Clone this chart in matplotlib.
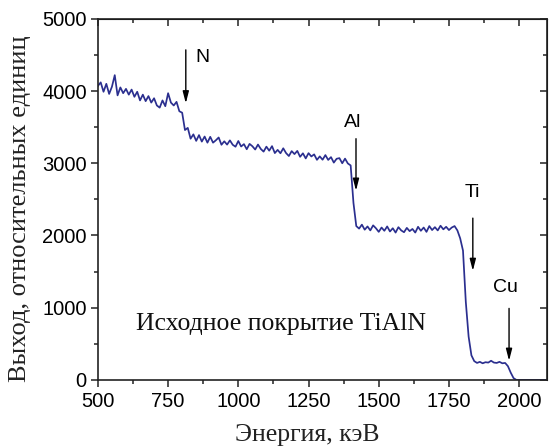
import matplotlib
matplotlib.use("Agg")
import matplotlib.pyplot as plt
from matplotlib.ticker import MultipleLocator

# RBS spectrum, one value per 10 keV channel starting at 500 keV
energy_start = 500
energy_step = 10
counts = [4070, 4120, 3990, 4100, 3960, 4060, 4220, 3940, 4050, 3970,   # 500-590
          4030, 3950, 4020, 3920, 3990, 3870, 3950, 3860, 3930, 3840,   # 600-690
          3900, 3800, 3770, 3870, 3790, 3970, 3840, 3800, 3850, 3720,   # 700-790
          3700, 3460, 3490, 3340, 3400, 3310, 3390, 3300, 3370, 3285,   # 800-890
          3366, 3285, 3318, 3357, 3256, 3304, 3258, 3317, 3256, 3229,   # 900-990
          3308, 3232, 3265, 3194, 3268, 3236, 3190, 3259, 3198, 3161,   # 1000-1090
          3230, 3174, 3237, 3141, 3185, 3138, 3207, 3141, 3100, 3168,   # 1100-1190
          3127, 3171, 3089, 3138, 3067, 3140, 3094, 3123, 3047, 3095,   # 1200-1290
          3049, 3113, 3046, 3085, 3009, 3062, 3071, 3000, 3064, 2997,   # 1300-1390
          2970, 2450, 2130, 2095, 2150, 2080, 2125, 2070, 2140, 2100,   # 1400-1490
          2050, 2110, 2065, 2125, 2055, 2100, 2040, 2115, 2070, 2045,   # 1500-1590
          2105, 2060, 2090, 2040, 2120, 2065, 2110, 2050, 2130, 2075,   # 1600-1690
          2115, 2070, 2135, 2085, 2120, 2075, 2110, 2130, 2070, 1960,   # 1700-1790
          1790, 1080, 600, 340, 260, 235, 250, 230, 245, 240,           # 1800-1890
          265, 240, 235, 250, 230, 235, 190, 100, 25, 0,                # 1900-1990
          0, 0, 0, 0, 0, 0, 0, 0, 0, 0, 0]                              # 2000-2100

elements = ["N", "Al", "Ti", "Cu"]
edge_energy = [813, 1419, 1835, 1964]

energy = [energy_start + energy_step * i for i in range(len(counts))]

fig = plt.figure(figsize=(5.5, 4.48), dpi=100)
ax = fig.add_axes([0.178, 0.152, 0.817, 0.806])
ax.plot(energy, counts, color="#2b2f8f", lw=1.25)

ax.set_xlim(500, 2100)
ax.set_ylim(0, 5000)
ax.xaxis.set_major_locator(MultipleLocator(250))
ax.xaxis.set_minor_locator(MultipleLocator(125))
ax.yaxis.set_major_locator(MultipleLocator(1000))
ax.yaxis.set_minor_locator(MultipleLocator(500))
ax.tick_params(which="both", direction="out", labelfontfamily="Liberation Sans",
               labelsize=14.5, width=1.1, color="#222222")
ax.tick_params(which="major", length=5, pad=3)
ax.tick_params(which="minor", length=3)
ax.tick_params(axis="x", pad=4)
# mirrored ticks on top/right pointing inward
sec_x = ax.secondary_xaxis("top")
sec_x.xaxis.set_major_locator(MultipleLocator(250))
sec_x.xaxis.set_minor_locator(MultipleLocator(125))
sec_x.tick_params(which="both", direction="in", labeltop=False, width=1.1, color="#222222")
sec_x.tick_params(which="major", length=5)
sec_x.tick_params(which="minor", length=3)
sec_y = ax.secondary_yaxis("right")
sec_y.yaxis.set_major_locator(MultipleLocator(1000))
sec_y.yaxis.set_minor_locator(MultipleLocator(500))
sec_y.tick_params(which="both", direction="in", labelright=False, width=1.1, color="#222222")
sec_y.tick_params(which="major", length=5)
sec_y.tick_params(which="minor", length=3)
for s in ax.spines.values():
    s.set_linewidth(1.2)
    s.set_color("#222222")

fig.text(0.559, 0.029, "Энергия, кэВ", family="Liberation Serif", fontsize=18.5,
         ha="center", va="center", color="#222222")
fig.text(0.036, 0.535, "Выход, относительных единиц", family="Liberation Serif",
         fontsize=19, rotation=90, ha="center", va="center", color="#222222")

arrow_top = [4570, 3340, 2240, 990]
arrow_tip = [3830, 2620, 1510, 265]
text_xy = [(874, 4470), (1408, 3570), (1835, 2600), (1950, 1280)]
for el, e, t, b, (tx, ty) in zip(elements, edge_energy, arrow_top, arrow_tip, text_xy):
    ax.annotate("", xy=(e, b), xytext=(e, t),
                arrowprops=dict(arrowstyle="-|>,head_length=0.7,head_width=0.18",
                                color="black", lw=1.0, shrinkA=0, shrinkB=0))
    ax.text(tx, ty, el, family="Liberation Sans", fontsize=14, ha="center", va="center")

ax.text(1153, 778, "Исходное покрытие TiAlN", family="Liberation Serif", fontsize=18.5,
        ha="center", va="center", color="#111111")

fig.savefig("out.png", dpi=100)
